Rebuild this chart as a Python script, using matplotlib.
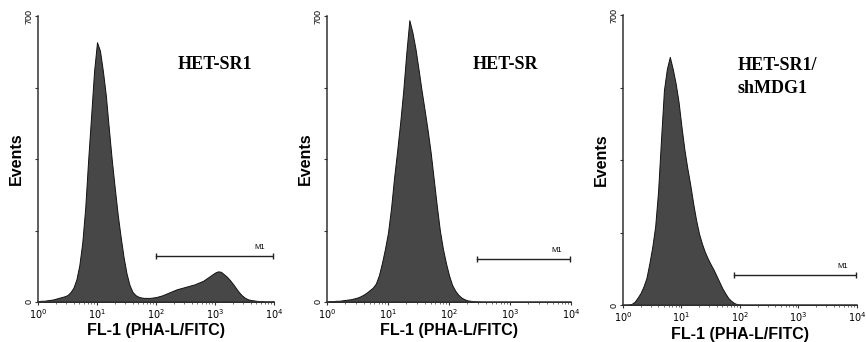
import numpy as np
import matplotlib
matplotlib.use("Agg")
import matplotlib.pyplot as plt

# log10 channel positions (0.05 decade bins from 10^0 to 10^4)
log_bins = np.arange(0, 4.001, 0.05)

# event counts
het_sr1 = [2, 3, 3, 4, 5, 6, 8, 10, 12, 14, 17, 24, 35, 55, 90, 145,
           230, 348, 455, 565, 636, 615, 565, 505, 425, 348, 280, 215, 160, 110,
           70, 42, 25, 17, 13, 11, 10, 10, 10, 11, 12, 14, 16, 19, 22, 25,
           28, 31, 33, 35, 37, 39, 41, 43, 46, 49, 52, 57, 62, 67, 72, 75,
           74, 68, 62, 54, 45, 35, 25, 17, 11, 7, 5, 4, 3, 2, 2, 1, 1, 1, 1]
het_sr = [1, 2, 2, 3, 3, 4, 5, 6, 7, 9, 11, 14, 18, 23, 29, 35,
          45, 65, 95, 130, 170, 230, 305, 370, 440, 518, 610, 690, 660, 620,
          570, 518, 470, 420, 365, 300, 235, 175, 130, 95, 65, 42, 28, 18, 11, 7,
          4, 3, 2, 1, 1, 0, 0, 0, 0, 0, 0, 0, 0, 0, 0, 0,
          0, 0, 0, 0, 0, 0, 0, 0, 0, 0, 0, 0, 0, 0, 0, 0, 0, 0, 0]
het_sr1_shmdg1 = [0, 0, 1, 3, 8, 18, 29, 45, 65, 100, 140, 190, 275, 400, 519, 570,
                  599, 570, 535, 490, 430, 375, 330, 290, 245, 205, 172, 148, 128, 112,
                  98, 85, 70, 55, 40, 28, 17, 10, 5, 2, 1, 0, 0, 0, 0, 0,
                  0, 0, 0, 0, 0, 0, 0, 0, 0, 0, 0, 0, 0, 0, 0, 0,
                  0, 0, 0, 0, 0, 0, 0, 0, 0, 0, 0, 0, 0, 0, 0, 0, 0, 0, 0]

titles = ["HET-SR1", "HET-SR", "HET-SR1/\nshMDG1"]
m1_start = [100, 290, 80]
m1_level = [112, 105, 72]

plt.rcParams['font.family'] = ['Liberation Sans', 'DejaVu Sans']

fig = plt.figure(figsize=(8.66, 3.42), dpi=100)
rects = [[0.0439, 0.117, 0.2725, 0.836],
         [0.3776, 0.117, 0.2818, 0.836],
         [0.7194, 0.108, 0.2702, 0.848]]
title_pos = [(0.75, 0.832, 'center'), (0.73, 0.832, 'center'), (0.49, 0.785, 'left')]

x = 10 ** log_bins
for i, counts in enumerate([het_sr1, het_sr, het_sr1_shmdg1]):
    ax = fig.add_axes(rects[i])
    ax.fill_between(x, counts, color='#474747', edgecolor='#111111', lw=0.7)
    ax.set_xscale('log')
    ax.set_xlim(1, 1e4)
    ax.set_ylim(0, 700)
    ax.spines['top'].set_visible(False)
    ax.spines['right'].set_visible(False)
    for s in ('left', 'bottom'):
        ax.spines[s].set_linewidth(1.1)
        ax.spines[s].set_color('#333333')
    ax.set_yticks([0, 175, 350, 525, 700])
    ax.set_yticklabels(['0', '', '', '', '700'], rotation=90, va='center', fontsize=6.5)
    ax.set_xticks([1, 10, 100, 1000, 10000])
    ax.set_xticklabels([r'$10^0$', r'$10^1$', r'$10^2$', r'$10^3$', r'$10^4$'], fontsize=7)
    ax.tick_params(axis='both', which='major', length=2, width=0.8, pad=1.5, color='#333333')
    ax.tick_params(axis='x', which='minor', length=1.2, width=0.6, color='#555555')
    ax.set_ylabel('Events', fontsize=11.5, fontweight='bold', labelpad=0)
    ax.set_xlabel('FL-1 (PHA-L/FITC)', fontsize=11.5, fontweight='bold', labelpad=2)

    # M1 marker bar
    ax.plot([m1_start[i], 9500], [m1_level[i], m1_level[i]], color='#222222', lw=1.0)
    ax.plot([m1_start[i], 9500], [m1_level[i], m1_level[i]], ls='none', marker='|',
            ms=5, mew=1.0, color='#222222')
    ax.text(7000, m1_level[i] + 12, 'M1', fontsize=5.5, ha='right', va='bottom')

    tx, ty, ha = title_pos[i]
    ax.text(tx, ty, titles[i], transform=ax.transAxes, ha=ha, va='center',
            fontsize=13, fontweight='bold', family='Liberation Serif',
            linespacing=1.45)

fig.savefig('out.png', dpi=100)
